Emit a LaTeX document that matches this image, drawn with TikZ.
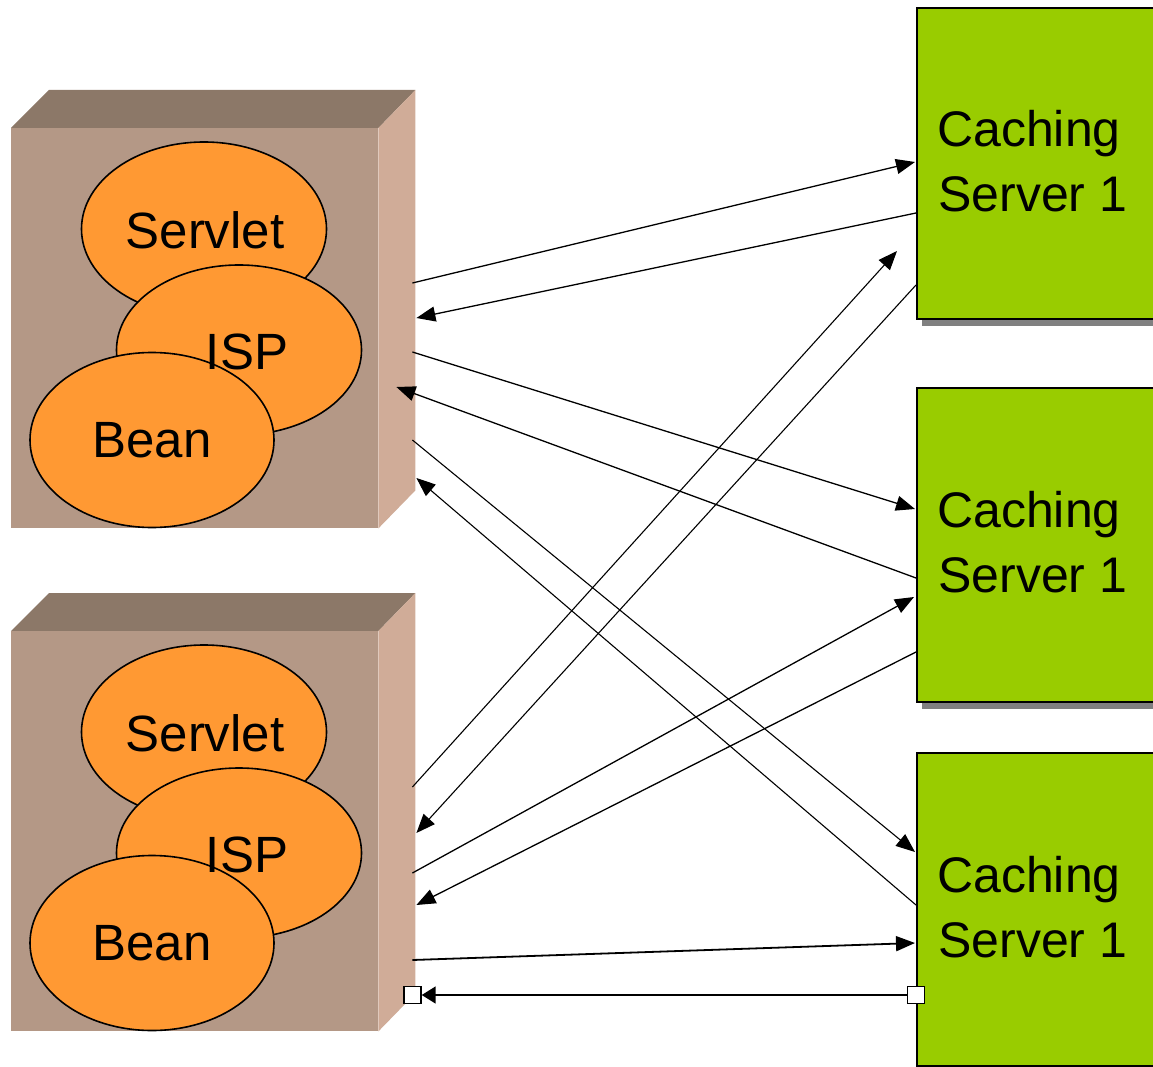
\documentclass[tikz,border=0pt]{standalone}
\usepackage{fontspec}
\setmainfont{Liberation Sans}
\usetikzlibrary{shapes.geometric,arrows.meta,calc,shadows}
\definecolor{topface}{HTML}{8C7868}
\definecolor{frontface}{HTML}{B49886}
\definecolor{sideface}{HTML}{D0AC98}
\definecolor{beanorange}{HTML}{FF9933}
\definecolor{csgreen}{HTML}{99CC00}
\definecolor{shadowgray}{HTML}{808080}
\begin{document}
\begin{tikzpicture}[x=1pt,y=-1pt,
  comp/.style={ellipse, draw=black, line width=1.6pt, fill=beanorange, inner sep=0pt, minimum width=245pt, minimum height=174pt},
  comptext/.style={inner sep=0pt, font=\fontsize{51}{60}\selectfont},
  csbox/.style={rectangle, draw=black, line width=2pt, fill=csgreen, anchor=north west, minimum width=290pt, inner sep=0pt,
    drop shadow={shadow xshift=5pt, shadow yshift=-7pt, fill=shadowgray, opacity=1}},
  cstext/.style={anchor=base west, inner sep=0pt, font=\fontsize{50}{60}\selectfont},
  appbox/.style={rectangle, anchor=north west, minimum width=404pt, minimum height=438pt, inner sep=0pt},
  link/.style={line width=1.3pt, -{Triangle[length=19pt,width=15pt]}},
  port/.style={rectangle, draw=black, line width=1.6pt, fill=white, minimum size=17pt, inner sep=0pt}
]
\useasboundingbox (0,0) rectangle (1153,1067);
\clip (0,0) rectangle (1153,1067);

% application server blocks
\foreach \n/\y in {1/90, 2/593}{
  \node[appbox] (app\n) at (11,\y) {};
  \fill[topface] ($(app\n.north west)+(0,38)$) -- ++(38,-38) -- (app\n.north east) -- ++(-37,38) -- cycle;
  \fill[frontface] ($(app\n.north west)+(0,38)$) rectangle ($(app\n.south east)+(-37,0)$);
  \fill[sideface] ($(app\n.north east)+(-37,38)$) -- (app\n.north east) -- ($(app\n.south east)+(0,-38)$) -- ($(app\n.south east)+(-37,0)$) -- cycle;
  \node[comp] (servlet\n) at ($(app\n.north west)+(193,139)$) {};
  \node[comp, minimum height=170pt] (jsp\n) at ($(app\n.north west)+(228,260)$) {};
  \node[comp, minimum width=244pt, minimum height=175pt] (bean\n) at ($(app\n.north west)+(141,350)$) {};
  \node[comptext] (servlettext\n) at ($(servlet\n.center)+(1,1)$) {Servlet};
  \node[comptext] (jsptext\n) at ($(jsp\n.center)+(8,2)$) {ISP};
  \node[comptext] (beantext\n) at ($(bean\n.center)+(0,0)$) {Bean};
}

% caching servers
\node[csbox, minimum height=311pt] (cs1) at (916,7) {};
\node[csbox, minimum height=314pt] (cs2) at (916,387) {};
\node[csbox, minimum height=313pt] (cs3) at (916,752) {};
\foreach \n in {1,2,3}{
  \node[cstext] (cap\n) at ($(cs\n.north west)+(21,140)$) {Caching};
  \node[cstext] (srv\n) at ($(cs\n.north west)+(22,205)$) {Server 1};
}

% connectors
\draw[link] ($(app1.north east)+(-3,193)$) -- ($(cs1.north west)+(-1,155)$);
\draw[link] ($(cs1.north west)+(0,206)$) -- ($(app1.north east)+(1,228)$);
\draw[link] ($(app1.north east)+(-3,262)$) -- ($(cs2.north west)+(-1,122)$);
\draw[link] ($(cs2.north west)+(0,191)$) -- ($(app1.north east)+(-19,297)$);
\draw[link, line width=1.1pt] ($(app1.north east)+(-3,350)$) -- ($(cs3.north west)+(-1,100)$);
\draw[link, line width=1.1pt] ($(cs3.north west)+(0,153)$) -- ($(app1.north east)+(1,388)$);
\draw[link, line width=1.1pt] ($(app2.north east)+(-3,194)$) -- ($(cs1.north west)+(-19,244)$);
\draw[link, line width=1.1pt] ($(cs1.north west)+(0,278)$) -- ($(app2.north east)+(1,240)$);
\draw[link] ($(app2.north east)+(-3,280)$) -- ($(cs2.north west)+(-2,210)$);
\draw[link] ($(cs2.north west)+(0,265)$) -- ($(app2.north east)+(1,312)$);
\draw[link, line width=1.8pt] ($(app2.north east)+(-3,367)$) -- ($(cs3.north west)+(-1,191)$);

\node[port] (sqL) at ($(app2.north east)+(-3,402)$) {};
\node[port] (sqR) at ($(cs3.north west)+(0,243)$) {};
\draw[line width=1.8pt, -{Triangle[length=14pt,width=17pt]}] (sqR.west) -- (sqL.east);
\end{tikzpicture}
\end{document}
